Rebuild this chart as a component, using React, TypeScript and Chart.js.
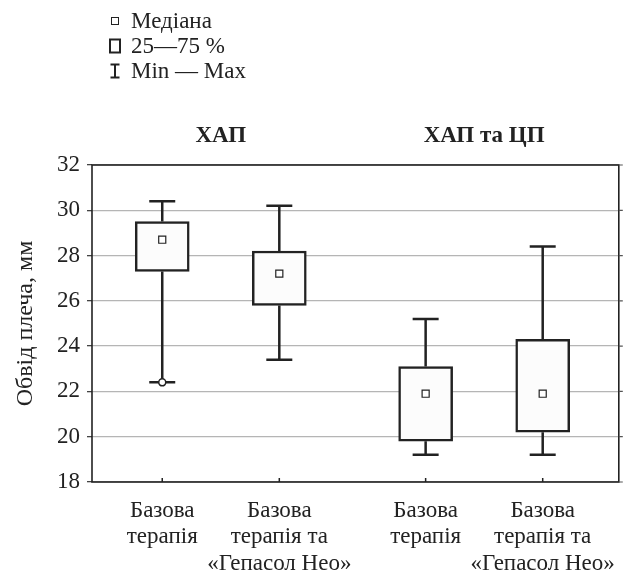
import React, { useEffect, useRef } from "react";
import { Chart, registerables } from "chart.js";

Chart.register(...registerables);

// ---- data ----
const categories: string[][] = [
  ["Базова", "терапія"],
  ["Базова", "терапія та", "«Гепасол Нео»"],
  ["Базова", "терапія"],
  ["Базова", "терапія та", "«Гепасол Нео»"],
];
const groupTitles = ["ХАП", "ХАП та ЦП"];
const minValues = [22.4, 23.4, 19.2, 19.2];
const q1Values = [27.3, 25.8, 19.8, 20.2];
const medianValues = [28.7, 27.2, 21.9, 21.9];
const q3Values = [29.5, 28.2, 23.1, 24.3];
const maxValues = [30.4, 30.2, 25.2, 28.4];
const outlierValues: (number | null)[] = [22.4, null, null, null];
const yTickValues = [18, 20, 22, 24, 26, 28, 30, 32];
const legendLabels = ["Медіана", "25—75 %", "Min — Max"];
const yAxisTitle = "Обвід плеча, мм";

// ---- layout (slot positions on the x scale) ----
const slots = [0.6, 1.6, 2.85, 3.85];
const FONT = "'Liberation Serif', serif";
const INK = "#222";

const decorPlugin = {
  id: "decor",
  beforeDatasetsDraw(chart: any) {
    const { ctx, scales } = chart;
    const x = scales.x, y = scales.y;
    ctx.save();
    ctx.strokeStyle = INK;
    ctx.lineWidth = 2.5;
    slots.forEach((s, i) => {
      const px = x.getPixelForValue(s);
      const yMax = y.getPixelForValue(maxValues[i]);
      const yQ3 = y.getPixelForValue(q3Values[i]);
      const yQ1 = y.getPixelForValue(q1Values[i]);
      const yMin = y.getPixelForValue(minValues[i]);
      ctx.beginPath();
      ctx.moveTo(px, yQ3);
      ctx.lineTo(px, yMax);
      ctx.moveTo(px - 13, yMax);
      ctx.lineTo(px + 13, yMax);
      ctx.moveTo(px, yQ1);
      ctx.lineTo(px, yMin);
      ctx.moveTo(px - 13, yMin);
      ctx.lineTo(px + 13, yMin);
      ctx.stroke();
    });
    ctx.restore();
  },
  afterDraw(chart: any) {
    const { ctx, scales, chartArea } = chart;
    const x = scales.x, y = scales.y;
    ctx.save();
    // frame
    ctx.strokeStyle = INK;
    ctx.lineWidth = 1.6;
    ctx.strokeRect(chartArea.left, chartArea.top, chartArea.right - chartArea.left, chartArea.bottom - chartArea.top);
    // right outward ticks
    ctx.lineWidth = 1.2;
    ctx.strokeStyle = "#555";
    ctx.beginPath();
    yTickValues.forEach((v) => {
      const py = y.getPixelForValue(v);
      ctx.moveTo(chartArea.right, py);
      ctx.lineTo(chartArea.right + 4, py);
    });
    ctx.stroke();
    // bottom inward ticks
    ctx.strokeStyle = INK;
    ctx.lineWidth = 1.5;
    ctx.beginPath();
    slots.forEach((s) => {
      const px = x.getPixelForValue(s);
      ctx.moveTo(px, chartArea.bottom);
      ctx.lineTo(px, chartArea.bottom - 4);
    });
    ctx.stroke();

    // group titles
    ctx.fillStyle = INK;
    ctx.font = `bold 23px ${FONT}`;
    ctx.textAlign = "center";
    ctx.textBaseline = "middle";
    groupTitles.forEach((t, g) => {
      const a = x.getPixelForValue(slots[g * 2]);
      const b = x.getPixelForValue(slots[g * 2 + 1]);
      ctx.fillText(t, (a + b) / 2, 128);
    });

    // legend
    const lx = 107;
    const rows = [13, 38, 63];
    ctx.font = `23px ${FONT}`;
    ctx.textAlign = "left";
    legendLabels.forEach((t, i) => ctx.fillText(t, 123, rows[i] + 1));
    ctx.strokeStyle = INK;
    // median icon
    ctx.lineWidth = 1;
    ctx.fillStyle = "#fff";
    ctx.fillRect(lx - 3.5, rows[0] - 3.5, 7, 7);
    ctx.strokeRect(lx - 3.5, rows[0] - 3.5, 7, 7);
    // box icon
    ctx.lineWidth = 2;
    ctx.strokeRect(lx - 5, rows[1] - 6.5, 10, 13);
    // whisker icon
    ctx.beginPath();
    ctx.moveTo(lx, rows[2] - 6.5);
    ctx.lineTo(lx, rows[2] + 6.5);
    ctx.moveTo(lx - 4.5, rows[2] - 6.5);
    ctx.lineTo(lx + 4.5, rows[2] - 6.5);
    ctx.moveTo(lx - 4.5, rows[2] + 6.5);
    ctx.lineTo(lx + 4.5, rows[2] + 6.5);
    ctx.stroke();
    ctx.restore();
  },
};

export default function App() {
  const ref = useRef<HTMLCanvasElement>(null);
  useEffect(() => {
    if (!ref.current) return;
    const chart = new Chart(ref.current, {
      type: "bar",
      data: {
        datasets: [
          {
            type: "bar",
            label: "25—75 %",
            data: slots.map((s, i) => ({ x: s, y: [q1Values[i], q3Values[i]] })) as any,
            backgroundColor: "#fcfcfc",
            borderColor: INK,
            borderWidth: 2.5,
            borderSkipped: false,
            barThickness: 54,
            order: 3,
          } as any,
          {
            type: "scatter",
            label: "Медіана",
            data: slots.map((s, i) => ({ x: s, y: medianValues[i] })),
            pointStyle: "rect",
            pointRadius: 5,
            backgroundColor: "#fff",
            borderColor: INK,
            borderWidth: 1.2,
            order: 1,
          } as any,
          {
            type: "scatter",
            label: "outlier",
            data: slots
              .map((s, i) => (outlierValues[i] == null ? null : { x: s, y: outlierValues[i] }))
              .filter((d) => d !== null),
            pointStyle: "circle",
            pointRadius: 3.5,
            backgroundColor: "#fff",
            borderColor: INK,
            borderWidth: 1.5,
            order: 0,
          } as any,
        ],
      },
      options: {
        responsive: false,
        animation: false,
        events: [],
        layout: { padding: { top: 157, right: 4, left: 0, bottom: 0 } },
        plugins: {
          legend: { display: false },
          tooltip: { enabled: false },
        },
        scales: {
          x: {
            type: "linear",
            min: 0,
            max: 4.5,
            offset: false,
            grid: { display: false },
            border: { display: false },
            afterBuildTicks: (axis: any) => {
              axis.ticks = slots.map((v) => ({ value: v }));
            },
            afterFit: (axis: any) => {
              axis.height = 91;
            },
            ticks: {
              autoSkip: false,
              maxRotation: 0,
              padding: 7,
              color: INK,
              font: { family: FONT, size: 23, lineHeight: 1.17 },
              callback: (_v: any, i: number) => categories[i],
            },
          },
          y: {
            min: 18,
            max: 32,
            afterBuildTicks: (axis: any) => {
              axis.ticks = yTickValues.map((v) => ({ value: v }));
            },
            afterFit: (axis: any) => {
              axis.width = 84;
            },
            grid: { color: "#b5b5b5", lineWidth: 1.3, tickColor: "#444", tickLength: 5 },
            border: { display: false },
            ticks: {
              padding: 7,
              color: INK,
              font: { family: FONT, size: 23 },
            },
            title: {
              display: true,
              text: yAxisTitle,
              color: INK,
              font: { family: FONT, size: 24 },
              padding: { top: 3, bottom: 0 },
            },
          },
        },
      } as any,
      plugins: [decorPlugin],
    });
    return () => chart.destroy();
  }, []);
  return <canvas ref={ref} width={617} height={565} style={{ display: "block" }} />;
}
